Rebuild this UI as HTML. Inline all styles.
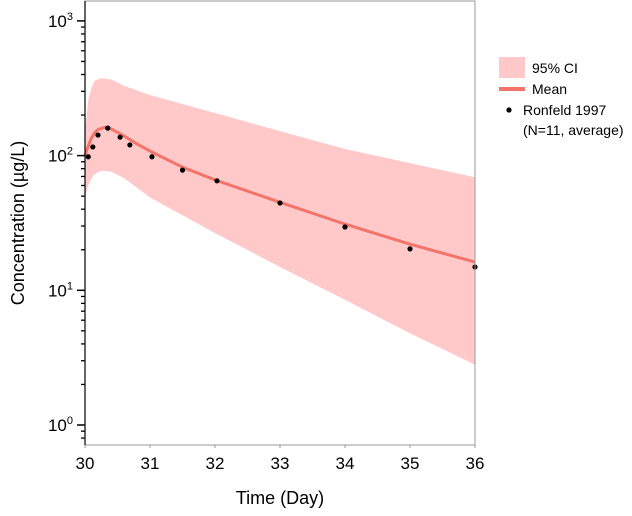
<!DOCTYPE html>
<html><head><meta charset="utf-8"><style>
body{margin:0;background:#fff;}
svg{font-family:"Liberation Sans",sans-serif;}
</style></head><body>
<svg width="632" height="511">
<g id="plot"></g>
<g>
 <rect x="499" y="57" width="26" height="21" fill="#ffc9c9"/>
 <text x="532" y="73" font-size="14">95% CI</text>
 <line x1="499" y1="89" x2="525" y2="89" stroke="#f4736a" stroke-width="4"/>
 <text x="532" y="94" font-size="14">Mean</text>
 <circle cx="509" cy="110" r="2.6" fill="#000"/>
 <text x="523" y="115" font-size="14">Ronfeld 1997</text>
 <text x="523" y="135" font-size="14">(N=11, average)</text>
</g>
<text x="280" y="504" font-size="18" text-anchor="middle">Time (Day)</text>
<text transform="translate(24,223) rotate(-90)" font-size="18" text-anchor="middle">Concentration (µg/L)</text>
</svg>
<script>
const ciT=[30,30.05,30.1,30.15,30.25,30.4,30.6,31,32,33,34,35,36];
const ciUpper=[150,260,320,360,375,368,330,282,207,152,112,88,69];
const ciLower=[49,60,68,73,77,76,68,49,26.6,14.9,8.5,4.8,2.8];
const meanT=[30,30.05,30.1,30.15,30.2,30.3,30.4,30.6,30.8,31,31.5,32,33,34,35,36];
const meanV=[100,118,135,148,156,162,158,140,122,108,82,66,45,31,22,16.2];
const obsT=[30.05,30.12,30.2,30.35,30.54,30.69,31.03,31.5,32.03,33,34,35,36];
const obsV=[98,116,142,160,137,120,98,78,65,44.5,29.5,20.3,14.9];
const xTicks=[30,31,32,33,34,35,36];
const yDecades=[0,1,2,3];
const X0=85,X1=475,YT=1,YB=445;
const x=t=>X0+(t-30)/6*(X1-X0);
const y=v=>425-Math.log10(v)*134.7;
const NS='http://www.w3.org/2000/svg';
const g=document.getElementById('plot');
function mk(tag,attrs){const e=document.createElementNS(NS,tag);for(const k in attrs)e.setAttribute(k,attrs[k]);g.appendChild(e);return e;}
let d='M'+ciT.map((t,i)=>x(t)+','+y(ciUpper[i])).join('L');
for(let i=ciT.length-1;i>=0;i--)d+='L'+x(ciT[i])+','+y(ciLower[i]);
let band=mk('path',{d:d+'Z',fill:'#ffc9c9'});


let ml=mk('path',{d:'M'+meanT.map((t,i)=>x(t)+','+y(meanV[i])).join('L'),fill:'none',stroke:'#f4736a','stroke-width':3,'stroke-linejoin':'round'});


obsT.forEach((t,i)=>{const c=mk('circle',{cx:x(t),cy:y(obsV[i]),r:2.6,fill:'#000'});

});
let fr=mk('rect',{x:X0,y:YT,width:X1-X0,height:YB-YT,fill:'none',stroke:'#999','stroke-width':1});


let ax=mk('line',{x1:X0,y1:YT,x2:X0,y2:YB,stroke:'#000','stroke-width':1.2});


xTicks.forEach(t=>{const tk=mk('line',{x1:x(t),y1:YB,x2:x(t),y2:YB+3,stroke:'#999'});


const l=mk('text',{x:x(t),y:YB+24,'font-size':17,'text-anchor':'middle'});l.textContent=t;

});
yDecades.forEach(p=>{const v=Math.pow(10,p);
const tk=mk('line',{x1:X0-8,y1:y(v),x2:X0,y2:y(v),stroke:'#000','stroke-width':1.5});


const l=mk('text',{x:X0-12,y:y(v)+6,'font-size':17,'text-anchor':'end'});
l.innerHTML='10<tspan dy="-7" font-size="11">'+p+'</tspan>';


for(let m=2;m<=9;m++){const yy=y(v/10*m);if(yy<YT||yy>YB)continue;
const mt=mk('line',{x1:X0-4,y1:yy,x2:X0,y2:yy,stroke:'#000','stroke-width':1.3});

}
for(let m=2;m<=9;m++){const yy=y(v*m);if(yy<YT||yy>YB||p<3)continue;
const mt=mk('line',{x1:X0-4,y1:yy,x2:X0,y2:yy,stroke:'#000','stroke-width':1.3});

}
});
</script>
</body></html>
